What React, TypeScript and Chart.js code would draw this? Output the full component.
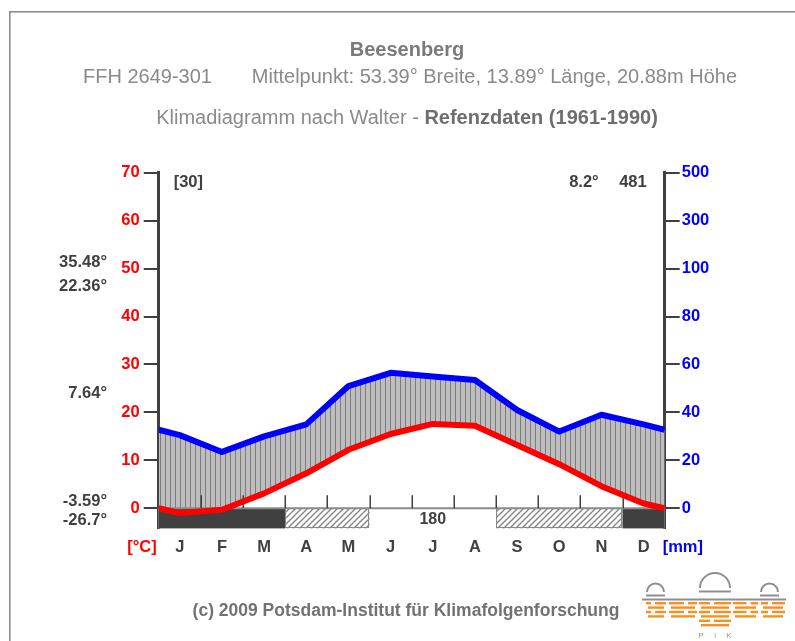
import React, { useEffect, useRef } from 'react';
import { Chart, registerables } from 'chart.js';

Chart.register(...registerables);

// ---------------- data ----------------
const stationName = 'Beesenberg';
const siteId = 'FFH 2649-301';
const siteInfo = 'Mittelpunkt: 53.39° Breite, 13.89° Länge, 20.88m Höhe';
const subtitlePlain = 'Klimadiagramm nach Walter - ';
const subtitleBold = 'Refenzdaten (1961-1990)';
const footerText = '(c) 2009 Potsdam-Institut für Klimafolgenforschung';

const months = ['J', 'F', 'M', 'A', 'M', 'J', 'J', 'A', 'S', 'O', 'N', 'D'];
const temperature = [-1.0, -0.3, 3.1, 7.3, 12.2, 15.5, 17.6, 17.2, 13.2, 9.2, 4.6, 1.0];
const precipitation = [30.5, 23.5, 30, 35, 51, 56.5, 55, 53.5, 41, 32, 39, 35];
const tempTicks = [0, 10, 20, 30, 40, 50, 60, 70];
const precipTickLabels = ['0', '20', '40', '60', '80', '100', '300', '500'];
// 2 = months with frost (dark), 1 = months with possible frost (hatched), 0 = frost free
const frostCategory = [2, 2, 2, 1, 1, 0, 0, 0, 1, 1, 1, 2];
const extremeLabels = ['35.48°', '22.36°', '7.64°', '-3.59°', '-26.7°'];
const observationYears = '[30]';
const annualMeanTemp = '8.2°';
const annualPrecip = '481';
const frostFreeDays = '180';

// ---------------- helpers ----------------
const FONT = 'Arial, "Liberation Sans", sans-serif';
const precipToScale = (p: number) => (p <= 100 ? p / 2 : 50 + (p - 100) / 20);

function withWrap(values: number[]) {
  const wrap = (values[0] + values[values.length - 1]) / 2;
  return [
    { x: 0, y: wrap },
    ...values.map((v, i) => ({ x: i + 0.5, y: v })),
    { x: values.length, y: wrap },
  ];
}

function txt(ctx: CanvasRenderingContext2D, s: string, x: number, y: number, font: string, color: string, align: CanvasTextAlign = 'left') {
  ctx.font = font;
  ctx.fillStyle = color;
  ctx.textAlign = align;
  ctx.textBaseline = 'middle';
  ctx.fillText(s, x, y);
}

function makeVerticalPattern(ctx: CanvasRenderingContext2D) {
  const c = document.createElement('canvas');
  c.width = 5;
  c.height = 4;
  const p = c.getContext('2d')!;
  p.fillStyle = '#bebebe';
  p.fillRect(0, 0, 5, 4);
  p.fillStyle = '#7c7c7c';
  p.fillRect(0, 0, 1, 4);
  return ctx.createPattern(c, 'repeat')!;
}

function makeDiagonalPattern(ctx: CanvasRenderingContext2D) {
  const c = document.createElement('canvas');
  c.width = 6;
  c.height = 6;
  const p = c.getContext('2d')!;
  p.fillStyle = '#ffffff';
  p.fillRect(0, 0, 6, 6);
  p.strokeStyle = '#858585';
  p.lineWidth = 1.4;
  p.beginPath();
  p.moveTo(-1, 7); p.lineTo(7, -1);
  p.moveTo(-1, 1); p.lineTo(1, -1);
  p.moveTo(5, 7); p.lineTo(7, 5);
  p.stroke();
  return ctx.createPattern(c, 'repeat')!;
}

function drawLogo(ctx: CanvasRenderingContext2D) {
  ctx.save();
  ctx.strokeStyle = '#8e8e8e';
  ctx.lineWidth = 2;
  ctx.beginPath();
  ctx.moveTo(642, 599.5);
  ctx.lineTo(786, 599.5);
  ctx.stroke();
  const domes: [number, number, number][] = [[655.5, 592, 8.5], [715, 588, 15], [769.5, 592, 8.5]];
  domes.forEach(([cx, cy, r]) => {
    ctx.beginPath();
    ctx.arc(cx, cy, r, Math.PI, 0);
    ctx.stroke();
    ctx.beginPath();
    ctx.moveTo(cx - r - 1, cy + 3.5);
    ctx.lineTo(cx + r + 1, cy + 3.5);
    ctx.stroke();
  });
  ctx.fillStyle = '#f7901e';
  const cols: [number, number, number][] = [[646, 666, 4], [669, 697, 4], [699, 731, 6], [733, 758, 4], [761, 785, 4]];
  cols.forEach(([x1, x2, n], ci) => {
    for (let k = 0; k < n; k++) {
      const y = 602 + k * 4.4;
      const mid = (x1 + x2) / 2 + ((k + ci) % 2 ? 3 : -3);
      if (k % 2 === 0) {
        ctx.fillRect(x1, y, mid - x1 - 2, 2.4);
        ctx.fillRect(mid + 2, y, x2 - mid - 2, 2.4);
      } else {
        ctx.fillRect(x1 + 2, y, x2 - x1 - 4, 2.4);
      }
    }
  });
  ctx.fillStyle = '#9a9a9a';
  ctx.font = `8px ${FONT}`;
  ctx.textAlign = 'center';
  ctx.textBaseline = 'middle';
  ctx.fillText('P', 701, 636);
  ctx.fillText('I', 715, 636);
  ctx.fillText('K', 729, 636);
  ctx.restore();
}

export default function App() {
  const ref = useRef<HTMLCanvasElement | null>(null);

  useEffect(() => {
    const canvas = ref.current;
    if (!canvas) return;
    const ctx0 = canvas.getContext('2d')!;
    const vPattern = makeVerticalPattern(ctx0);
    const dPattern = makeDiagonalPattern(ctx0);

    const decor = {
      id: 'walterDecor',
      beforeDatasetsDraw(chart: any) {
        const { ctx, chartArea } = chart;
        const x = chart.scales.x;
        const y = chart.scales.y;
        const y0 = y.getPixelForValue(0);
        const yb = chartArea.bottom;
        ctx.save();
        // base box
        ctx.fillStyle = '#ffffff';
        ctx.fillRect(chartArea.left, y0, chartArea.right - chartArea.left, yb - y0);
        // runs of categories
        const runs: { c: number; s: number; e: number }[] = [];
        frostCategory.forEach((c, i) => {
          const last = runs[runs.length - 1];
          if (last && last.c === c) last.e = i + 1;
          else runs.push({ c, s: i, e: i + 1 });
        });
        runs.forEach((r) => {
          const x1 = x.getPixelForValue(r.s);
          const x2 = x.getPixelForValue(r.e);
          if (r.c === 2) {
            ctx.fillStyle = '#404040';
            ctx.fillRect(x1, y0, x2 - x1, yb - y0);
          } else if (r.c === 1) {
            ctx.fillStyle = dPattern;
            ctx.fillRect(x1, y0, x2 - x1, yb - y0);
            ctx.strokeStyle = '#8a8a8a';
            ctx.lineWidth = 1;
            ctx.strokeRect(Math.round(x1) + 0.5, Math.round(y0) + 0.5, Math.round(x2 - x1) - 1, Math.round(yb - y0) - 1);
          } else {
            txt(ctx, frostFreeDays, x.getPixelForValue((r.s + r.e) / 2), (y0 + yb) / 2 + 1, `bold 16px ${FONT}`, '#404040', 'center');
          }
        });
        // zero line
        ctx.strokeStyle = '#8a8a8a';
        ctx.lineWidth = 2;
        ctx.beginPath();
        ctx.moveTo(chartArea.left, y0);
        ctx.lineTo(chartArea.right, y0);
        ctx.stroke();
        // month boundary ticks
        ctx.strokeStyle = '#404040';
        ctx.lineWidth = 1.5;
        for (let i = 1; i < months.length; i++) {
          const px = Math.round(x.getPixelForValue(i)) + 0.25;
          ctx.beginPath();
          ctx.moveTo(px, y0);
          ctx.lineTo(px, y0 - 13);
          ctx.stroke();
        }
        ctx.restore();
      },
      afterDraw(chart: any) {
        const { ctx, chartArea } = chart;
        const x = chart.scales.x;
        ctx.save();
        // frame
        ctx.fillStyle = '#8c8c8c';
        ctx.fillRect(9, 11, 786, 1.6);
        ctx.fillRect(9, 11, 1.6, 630);
        // titles
        txt(ctx, stationName, 407, 50, `bold 20px ${FONT}`, '#7a7a7a', 'center');
        txt(ctx, siteId, 83, 77, `20px ${FONT}`, '#8a8a8a', 'left');
        txt(ctx, siteInfo, 737, 77, `20px ${FONT}`, '#8a8a8a', 'right');
        ctx.font = `20px ${FONT}`;
        const w1 = ctx.measureText(subtitlePlain).width;
        ctx.font = `bold 20px ${FONT}`;
        const w2 = ctx.measureText(subtitleBold).width;
        const sx = 407 - (w1 + w2) / 2;
        txt(ctx, subtitlePlain, sx, 118, `20px ${FONT}`, '#8a8a8a', 'left');
        txt(ctx, subtitleBold, sx + w1, 118, `bold 20px ${FONT}`, '#6e6e6e', 'left');
        // header numbers
        txt(ctx, observationYears, chartArea.left + 15, 182, `bold 16.5px ${FONT}`, '#404040', 'left');
        txt(ctx, annualPrecip, chartArea.right - 18, 182, `bold 16.5px ${FONT}`, '#404040', 'right');
        txt(ctx, annualMeanTemp, chartArea.right - 66, 182, `bold 16.5px ${FONT}`, '#404040', 'right');
        // extremes on the left
        const ey = [262, 286, 393, 501, 520];
        extremeLabels.forEach((s, i) => txt(ctx, s, 107, ey[i], `bold 16.5px ${FONT}`, '#404040', 'right'));
        // month labels and units
        const my = chartArea.bottom + 19;
        months.forEach((m, i) => txt(ctx, m, x.getPixelForValue(i + 0.5), my, `bold 16.5px ${FONT}`, '#404040', 'center'));
        txt(ctx, '[°C]', chartArea.left - 2, my, `bold 16.5px ${FONT}`, '#ff0000', 'right');
        txt(ctx, '[mm]', chartArea.right - 2, my, `bold 16.5px ${FONT}`, '#0000ff', 'left');
        // footer
        txt(ctx, footerText, 406, 611, `bold 17.5px ${FONT}`, '#727272', 'center');
        drawLogo(ctx);
        ctx.restore();
      },
    };

    const common = {
      min: -4.2,
      max: 70,
      afterBuildTicks: (s: any) => {
        s.ticks = tempTicks.map((v) => ({ value: v }));
      },
      afterFit: (s: any) => {
        s.width = 60;
      },
      grid: { drawOnChartArea: false, drawTicks: true, tickLength: 15, tickColor: '#404040', lineWidth: 2 },
      border: { display: true, color: '#404040', width: 3 },
    };

    const chart = new Chart(canvas, {
      type: 'line',
      data: {
        datasets: [
          {
            label: 'Temperatur',
            data: withWrap(temperature),
            borderColor: '#ff0000',
            borderWidth: 6,
            pointRadius: 0,
            tension: 0,
            fill: false,
            borderJoinStyle: 'round',
          },
          {
            label: 'Niederschlag',
            data: withWrap(precipitation.map(precipToScale)),
            borderColor: '#0000ff',
            borderWidth: 6,
            pointRadius: 0,
            tension: 0,
            fill: { target: 0 },
            backgroundColor: vPattern,
            borderJoinStyle: 'round',
          },
        ],
      } as any,
      options: {
        animation: false,
        responsive: false,
        devicePixelRatio: 1,
        parsing: false,
        layout: { padding: { left: 98.7, right: 70.3, top: 172.7, bottom: 112.6 } },
        plugins: {
          legend: { display: false },
          tooltip: { enabled: false },
          filler: { drawTime: 'beforeDatasetsDraw' },
        },
        scales: {
          x: { type: 'linear', min: 0, max: 12, display: false },
          y: {
            ...common,
            position: 'left',
            ticks: { color: '#ff0000', font: { family: FONT, size: 16.5, weight: 'bold' }, padding: 4 },
          },
          y1: {
            ...common,
            position: 'right',
            ticks: {
              color: '#0000ff',
              font: { family: FONT, size: 16.5, weight: 'bold' },
              padding: 2,
              callback: (_v: any, i: number) => precipTickLabels[i],
            },
          },
        },
      } as any,
      plugins: [decor],
    });

    return () => chart.destroy();
  }, []);

  return (
    <div style={{ position: 'absolute', left: 0, top: 0, width: 795, height: 641, background: '#ffffff' }}>
      <canvas ref={ref} width={795} height={641} style={{ display: 'block' }} />
    </div>
  );
}
